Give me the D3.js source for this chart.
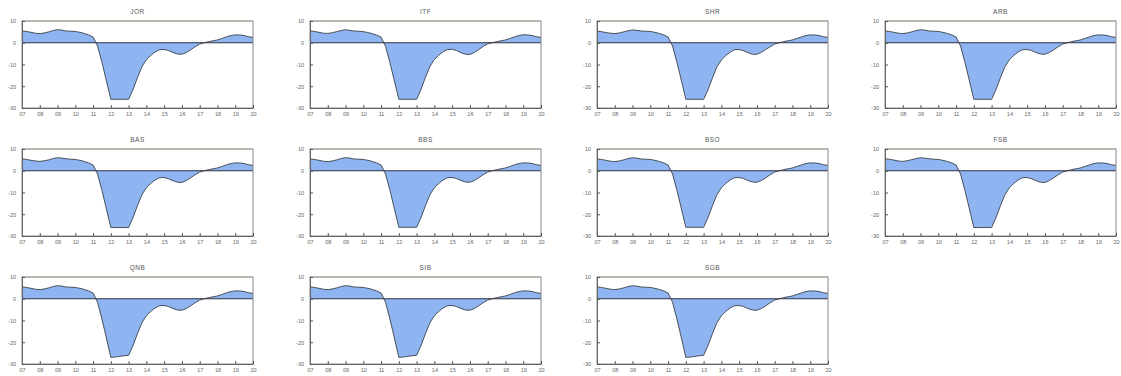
<!DOCTYPE html>
<html>
<head>
<meta charset="utf-8">
<script src="https://cdn.jsdelivr.net/npm/d3@7"></script>
<style>
  html, body { margin: 0; padding: 0; background: #fff; }
  svg { display: block; font-family: "Liberation Sans", Arial, sans-serif; }
</style>
</head>
<body>
<svg id="chart" width="1121" height="376"></svg>
<script>
// Quarterly observations, 2007Q1 .. 2020Q1
const periods = d3.range(0, 53).map(i => 2007 + i * 0.25);

const banks = ["JOR", "ITF", "SHR", "ARB", "BAS", "BBS", "BSO", "FSB", "QNB", "SIB", "SGB"];

const yTicks = [10, 0, -10, -20, -30];
const yTickLabels = ["10", "0", "-10", "-20", "-30"];
const xTicks = d3.range(2007, 2021);
const xTickLabels = ["07", "08", "09", "10", "11", "12", "13", "14", "15", "16", "17", "18", "19", "20"];

const JOR = [5.4, 5.2, 4.8, 4.4, 4.2, 4.5, 5.0, 5.6, 6.0, 5.8, 5.4, 5.3, 5.2, 4.8, 4.3, 3.6, 2.7, -1.5, -9.0, -17.5,
  -26.0, -26.0, -26.0, -26.0, -26.0, -21.5, -16.0, -11.0, -7.8, -5.8, -4.2, -3.2, -3.1, -3.6, -4.5, -5.2, -5.3, -4.5,
  -3.2, -1.8, -0.6, 0.0, 0.5, 0.9, 1.3, 2.0, 2.7, 3.3, 3.6, 3.6, 3.3, 2.8, 2.4];
const ITF = [5.5, 5.2, 4.8, 4.4, 4.3, 4.6, 5.1, 5.6, 6.0, 5.7, 5.4, 5.3, 5.1, 4.7, 4.2, 3.5, 2.6, -1.6, -9.2, -17.6,
  -26.0, -26.0, -26.0, -26.0, -26.0, -21.4, -15.8, -10.9, -7.7, -5.7, -4.1, -3.1, -3.0, -3.6, -4.6, -5.3, -5.4, -4.5,
  -3.1, -1.7, -0.5, 0.0, 0.5, 0.9, 1.3, 2.0, 2.7, 3.3, 3.7, 3.6, 3.3, 2.8, 2.4];
const SHR = [5.4, 5.1, 4.7, 4.4, 4.2, 4.5, 5.0, 5.5, 5.9, 5.7, 5.4, 5.3, 5.2, 4.8, 4.3, 3.6, 2.7, -1.5, -9.0, -17.4,
  -26.0, -26.0, -26.0, -26.0, -26.0, -21.6, -16.1, -11.1, -7.9, -5.9, -4.3, -3.2, -3.1, -3.7, -4.6, -5.3, -5.3, -4.4,
  -3.1, -1.8, -0.6, 0.0, 0.5, 0.9, 1.3, 2.0, 2.7, 3.3, 3.6, 3.6, 3.3, 2.8, 2.4];
const ARB = [5.4, 5.2, 4.8, 4.4, 4.2, 4.5, 5.0, 5.6, 6.0, 5.8, 5.4, 5.3, 5.2, 4.8, 4.3, 3.6, 2.7, -1.5, -9.0, -17.5,
  -26.0, -26.0, -26.0, -26.0, -26.0, -21.5, -16.0, -11.0, -7.8, -5.8, -4.2, -3.2, -3.1, -3.6, -4.5, -5.2, -5.3, -4.5,
  -3.2, -1.8, -0.6, 0.0, 0.5, 0.9, 1.3, 2.0, 2.7, 3.3, 3.6, 3.6, 3.3, 2.8, 2.4];
const BAS = [5.5, 5.2, 4.8, 4.5, 4.3, 4.6, 5.0, 5.6, 6.0, 5.8, 5.5, 5.3, 5.2, 4.8, 4.3, 3.6, 2.7, -1.5, -9.1, -17.6,
  -26.1, -26.1, -26.1, -26.1, -26.1, -21.5, -16.0, -11.0, -7.8, -5.8, -4.2, -3.2, -3.1, -3.7, -4.6, -5.3, -5.4, -4.5,
  -3.2, -1.8, -0.6, 0.0, 0.5, 0.9, 1.3, 2.0, 2.7, 3.3, 3.6, 3.6, 3.3, 2.8, 2.4];
const BBS = [5.4, 5.2, 4.8, 4.4, 4.2, 4.5, 5.0, 5.6, 6.0, 5.8, 5.4, 5.3, 5.2, 4.8, 4.3, 3.6, 2.7, -1.5, -9.0, -17.5,
  -26.0, -26.0, -26.0, -26.0, -26.0, -21.5, -16.0, -11.0, -7.8, -5.8, -4.2, -3.2, -3.1, -3.6, -4.5, -5.2, -5.3, -4.5,
  -3.2, -1.8, -0.6, 0.0, 0.5, 0.9, 1.3, 2.0, 2.7, 3.3, 3.6, 3.6, 3.3, 2.8, 2.4];
const BSO = [5.4, 5.2, 4.8, 4.4, 4.2, 4.5, 5.0, 5.6, 6.0, 5.8, 5.4, 5.3, 5.2, 4.8, 4.3, 3.6, 2.7, -1.5, -9.0, -17.5,
  -26.0, -26.0, -26.0, -26.0, -26.0, -21.5, -16.0, -11.0, -7.8, -5.8, -4.2, -3.2, -3.1, -3.6, -4.5, -5.2, -5.3, -4.5,
  -3.2, -1.8, -0.6, 0.0, 0.5, 0.9, 1.3, 2.0, 2.7, 3.3, 3.6, 3.6, 3.3, 2.8, 2.4];
const FSB = [5.5, 5.3, 4.9, 4.5, 4.3, 4.6, 5.1, 5.6, 6.0, 5.8, 5.5, 5.3, 5.2, 4.8, 4.3, 3.6, 2.7, -1.5, -9.1, -17.6,
  -26.1, -26.1, -26.1, -26.1, -26.1, -21.5, -16.0, -11.0, -7.8, -5.8, -4.2, -3.2, -3.1, -3.7, -4.6, -5.3, -5.4, -4.5,
  -3.2, -1.8, -0.6, 0.0, 0.5, 0.9, 1.3, 2.0, 2.7, 3.3, 3.6, 3.6, 3.3, 2.8, 2.4];
const QNB = [5.5, 5.2, 4.8, 4.4, 4.2, 4.5, 5.0, 5.6, 6.0, 5.8, 5.4, 5.3, 5.2, 4.8, 4.3, 3.6, 2.7, -1.6, -9.4, -18.0,
  -27.0, -26.8, -26.5, -26.2, -26.0, -21.5, -16.0, -11.0, -7.8, -5.8, -4.2, -3.2, -3.1, -3.6, -4.5, -5.2, -5.3, -4.5,
  -3.2, -1.8, -0.6, 0.0, 0.5, 0.9, 1.3, 2.0, 2.7, 3.3, 3.6, 3.6, 3.3, 2.8, 2.4];
const SIB = [5.5, 5.2, 4.8, 4.4, 4.2, 4.5, 5.0, 5.6, 6.0, 5.8, 5.4, 5.3, 5.2, 4.8, 4.3, 3.6, 2.7, -1.6, -9.4, -18.0,
  -27.0, -26.8, -26.5, -26.2, -26.0, -21.5, -16.0, -11.0, -7.8, -5.8, -4.2, -3.2, -3.1, -3.6, -4.5, -5.2, -5.3, -4.5,
  -3.2, -1.8, -0.6, 0.0, 0.5, 0.9, 1.3, 2.0, 2.7, 3.3, 3.6, 3.6, 3.3, 2.8, 2.4];
const SGB = [5.5, 5.2, 4.8, 4.4, 4.2, 4.5, 5.0, 5.6, 6.0, 5.8, 5.4, 5.3, 5.2, 4.8, 4.3, 3.6, 2.7, -1.6, -9.4, -18.0,
  -27.0, -26.8, -26.5, -26.2, -26.0, -21.5, -16.0, -11.0, -7.8, -5.8, -4.2, -3.2, -3.1, -3.6, -4.5, -5.2, -5.3, -4.5,
  -3.2, -1.8, -0.6, 0.0, 0.5, 0.9, 1.3, 2.0, 2.7, 3.3, 3.6, 3.6, 3.3, 2.8, 2.4];

const seriesByBank = { JOR, ITF, SHR, ARB, BAS, BBS, BSO, FSB, QNB, SIB, SGB };

// Panel grid layout
const colLeft = [22, 310, 597, 885];
const rowTop = [21, 149, 277];
const pw = 231, ph = 87;

const svg = d3.select("#chart");
svg.append("rect").attr("width", 1121).attr("height", 376).attr("fill", "#fff");

const x = d3.scaleLinear().domain([2007, 2020]).range([0, pw]);
const y = d3.scaleLinear().domain([10, -30]).range([0, ph]);

const area = d3.area().x((d, i) => x(periods[i])).y0(y(0)).y1(d => y(d));
const line = d3.line().x((d, i) => x(periods[i])).y(d => y(d));

banks.forEach((name, k) => {
  const col = k % 4, row = Math.floor(k / 4);
  const g = svg.append("g").attr("transform", `translate(${colLeft[col]},${rowTop[row]})`);
  const values = seriesByBank[name];

  // title
  g.append("text")
    .attr("x", pw / 2).attr("y", -7)
    .attr("text-anchor", "middle")
    .attr("font-size", 6.5).attr("fill", "#555")
    .attr("letter-spacing", 0.5)
    .text(name);

  // filled deviation from zero
  g.append("path").attr("d", area(values)).attr("fill", "#8fb4f2");
  g.append("path").attr("d", line(values))
    .attr("fill", "none").attr("stroke", "#3a3f4a").attr("stroke-width", 0.9);

  // zero reference line
  g.append("line")
    .attr("x1", 0).attr("x2", pw).attr("y1", y(0)).attr("y2", y(0))
    .attr("stroke", "#2c3440").attr("stroke-width", 1);

  // frame
  g.append("rect").attr("x", 0).attr("y", 0).attr("width", pw).attr("height", ph)
    .attr("fill", "none").attr("stroke", "#8a8a8a").attr("stroke-width", 1);
  g.append("line").attr("x1", 0).attr("x2", pw).attr("y1", 0).attr("y2", 0)
    .attr("stroke", "#b0a898").attr("stroke-width", 1);

  // axes
  const xAxis = d3.axisBottom(x).tickValues(xTicks)
    .tickFormat((d, i) => xTickLabels[i]).tickSizeInner(-3).tickSizeOuter(0).tickPadding(4);
  const gx = g.append("g").attr("transform", `translate(0,${ph})`).call(xAxis);
  const yAxis = d3.axisLeft(y).tickValues(yTicks)
    .tickFormat((d, i) => yTickLabels[i]).tickSizeInner(-3).tickSizeOuter(0).tickPadding(6);
  const gy = g.append("g").call(yAxis);

  [gx, gy].forEach(a => {
    a.select(".domain").attr("stroke", "#666");
    a.selectAll(".tick line").attr("stroke", "#555");
    a.selectAll(".tick text").attr("font-size", 5.5).attr("fill", "#666")
      .attr("font-family", "Liberation Sans, Arial, sans-serif");
  });
});
</script>
</body>
</html>
